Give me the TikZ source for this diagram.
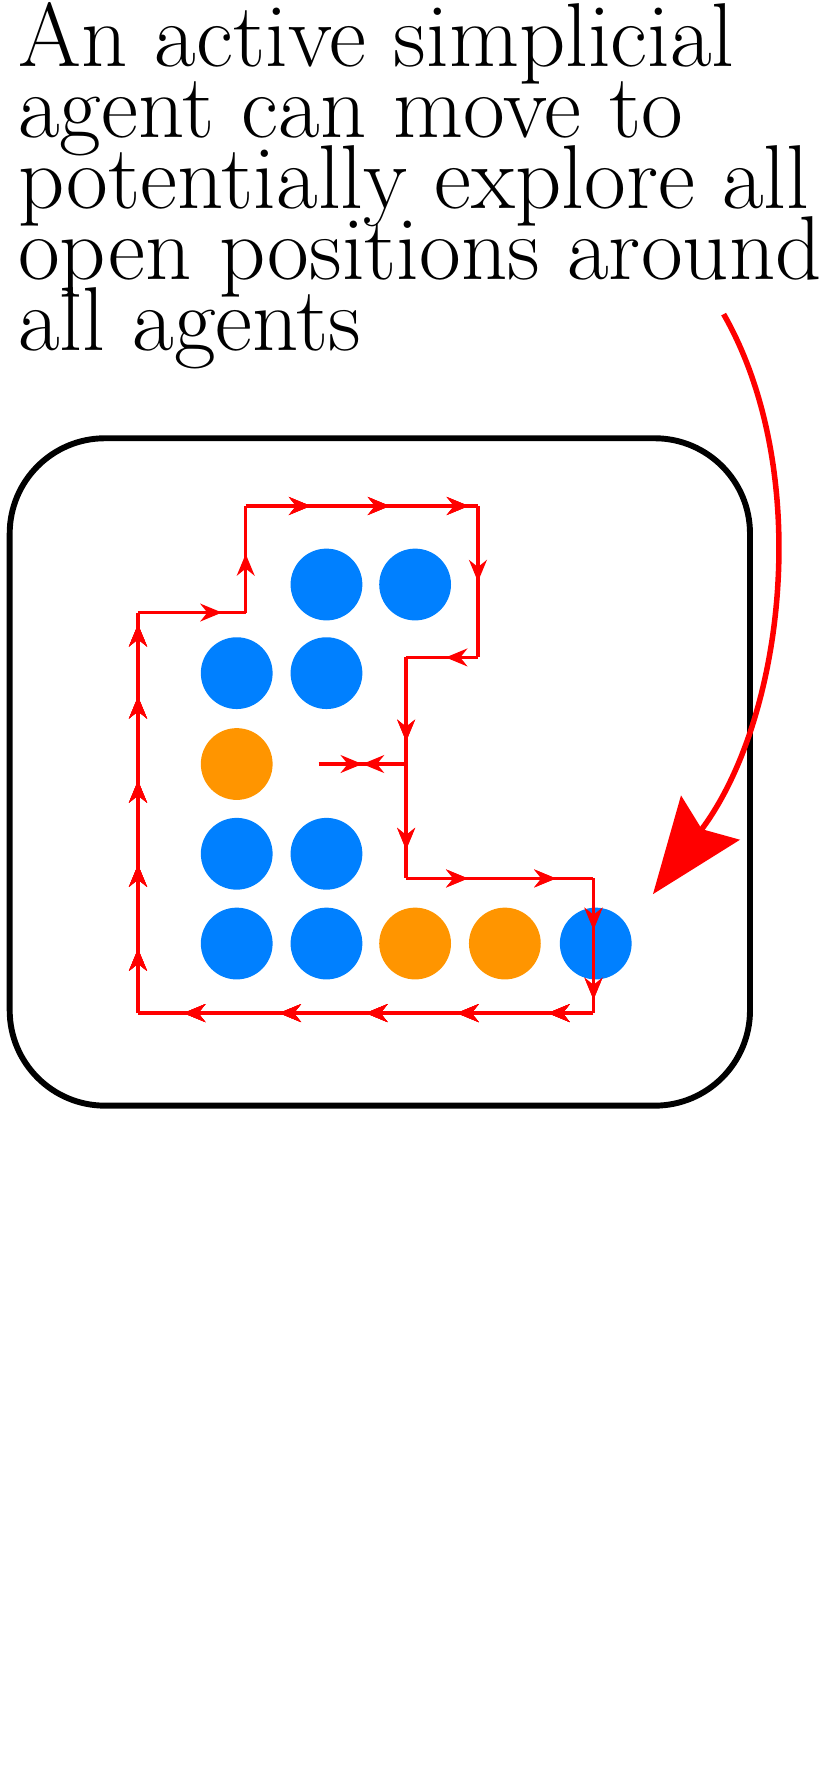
\documentclass[tikz,border=0pt]{standalone}
\usepackage{tikz}
\usetikzlibrary{arrows.meta, decorations.markings}

\definecolor{agentblue}{HTML}{0080FF}
\definecolor{agentorange}{HTML}{FF9500}
\newcommand{\tightlines}{\fontsize{46}{35.9}\selectfont\lineskiplimit=-100pt\relax}

\begin{document}
\begin{tikzpicture}[
    x=0.02cm, y=-0.02cm,
    agent/.style={circle, minimum size=1.28cm, inner sep=0pt},
    active/.style={agent, fill=agentblue},
    passive/.style={agent, fill=agentorange},
    walk/.style={red, line width=1.7pt},
    tip/.style={decoration={markings, mark=at position #1 with {\arrow{Stealth[length=11pt,width=9pt]}}}, postaction={decorate}}
]
    \useasboundingbox (0,0) rectangle (740,1575);

    % caption
    \node[anchor=base west, inner sep=0pt, align=left, font=\tightlines] (caption) at (16,312)
        {An active simplicial\\agent can move to\\potentially explore all\\open positions around\\all agents};

    % frame
    \node[draw, line width=3pt, rounded corners=1.7cm, minimum width=13.2cm, minimum height=11.9cm, anchor=north west] (frame) at (6,388) {};

    % agents
    \node[active] (a1) at (291,521) {};
    \node[active] (a2) at (370,521) {};
    \node[active] (a3) at (211,600) {};
    \node[active] (a4) at (291,600) {};
    \node[passive] (p1) at (211,681) {};
    \node[active] (a5) at (211,761) {};
    \node[active] (a6) at (291,761) {};
    \node[active] (a7) at (211,841) {};
    \node[active] (a8) at (291,841) {};
    \node[passive] (p2) at (370,841) {};
    \node[passive] (p3) at (450,841) {};
    \node[active] (a9) at (531,841) {};

    % walk around the agents
    \coordinate (w0) at (123,903);
    \coordinate (w1) at (123,546);
    \coordinate (w2) at (219,546);
    \coordinate (w3) at (219,451);
    \coordinate (w4) at (426,451);
    \coordinate (w5) at (426,586);
    \coordinate (w6) at (362,586);
    \coordinate (w7) at (362,783);
    \coordinate (w8) at (529,783);
    \coordinate (w9) at (529,903);
    \coordinate (h1) at (284,681);
    \coordinate (h2) at (362,681);
    \coordinate (hm) at (323,681);

    \draw[walk, tip=0.16, tip=0.37, tip=0.58, tip=0.79, tip=0.97] (w0) -- (w1);
    \draw[walk, tip=0.78] (w1) -- (w2);
    \draw[walk, tip=0.55] (w2) -- (w3);
    \draw[walk, tip=0.28, tip=0.62, tip=0.96] (w3) -- (w4);
    \draw[walk, tip=0.5] (w4) -- (w5);
    \draw[walk, tip=0.45] (w5) -- (w6);
    \draw[walk, tip=0.38, tip=0.87] (w6) -- (w7);
    \draw[walk, tip=0.33, tip=0.8] (w7) -- (w8);
    \draw[walk, tip=0.38, tip=0.9] (w8) -- (w9);
    \draw[walk, tip=0.1, tip=0.3, tip=0.5, tip=0.69, tip=0.9] (w9) -- (w0);
    \draw[walk, tip=1] (h1) -- (hm);
    \draw[walk, tip=1] (h2) -- (hm);

    % pointer
    \coordinate (from) at (645,280);
    \coordinate (to) at (582,797);
    \draw[red, line width=2.8pt, -{Stealth[length=1.7cm, width=1.3cm, inset=0.25cm]}]
        (from) .. controls (725,420) and (700,640) .. (to);
\end{tikzpicture}
\end{document}
